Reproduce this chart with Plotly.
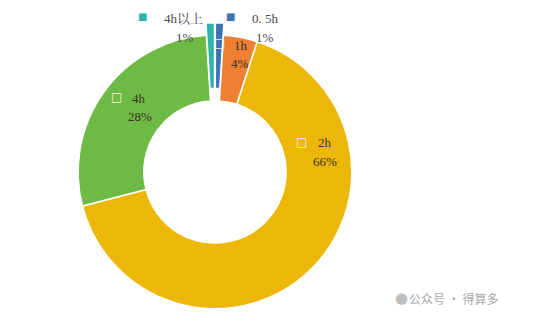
import plotly.graph_objects as go

labels = ["0.5h", "1h", "2h", "4h", "4h以上"]
values = [1, 4, 66, 28, 1]
colors = ["#3F72B5", "#EE7F35", "#EDB70A", "#6DBB45", "#2DB3AE"]
pulls = [0.09, 0, 0, 0, 0.09]
pct_text = ["1%", "4%", "66%", "28%", "1%"]

W, H = 534, 321


def px(x, y):
    return x / W, 1 - y / H


fig = go.Figure()
fig.add_trace(go.Pie(
    labels=labels, values=values, sort=False, direction="clockwise", rotation=0,
    hole=0.52, pull=pulls,
    marker=dict(colors=colors, line=dict(color="white", width=1.5)),
    textinfo="none", showlegend=False, hoverinfo="label+percent",
    domain=dict(x=[0.123, 0.682], y=[0.0, 0.929]),
))

serif = "Liberation Serif, Noto Serif CJK SC, Noto Sans CJK SC, serif"


def note(x, y, text, size=13, color="#3a3020", family=serif, xanchor="center"):
    xx, yy = px(x, y)
    fig.add_annotation(x=xx, y=yy, xref="paper", yref="paper", showarrow=False,
                       xanchor=xanchor, yanchor="middle", text=text,
                       font=dict(family=family, size=size, color=color))


# data labels: (label pos, percent pos, key-square pos, key style)
label_layout = {
    "4h以上": ((183, 18), (185, 37), (142, 16), "filled"),
    "0.5h": ((265, 18), (265, 37), (230, 16), "filled"),
    "1h": ((241, 45), (240, 63), (219, 43), "hollow"),
    "2h": ((325, 143), (325, 162), (301, 142), "hollow"),
    "4h": ((139, 98), (140, 117), (116, 97), "hollow"),
}
for lab, pct, col in zip(labels, pct_text, colors):
    (lx, ly), (qx, qy), (sx, sy), style = label_layout[lab]
    shown = "0. 5h" if lab == "0.5h" else lab
    tc = "#4a4a4a" if style == "filled" else "#3a3020"
    note(lx, ly, shown, color=tc)
    note(qx, qy, pct, color=tc)
    if style == "filled":
        note(sx, sy, "■", size=10, color=col, family="DejaVu Sans")
    else:
        note(sx, sy, "□", size=12, color="#f6f0dc", family="DejaVu Sans")

# watermark
note(500, 298, "公众号 · 得算多", size=12, color="#a8a8a8",
     family="Noto Sans CJK SC", xanchor="right")
note(401, 298, "●", size=15, color="#bdbdbd", family="DejaVu Sans")

fig.update_layout(width=W, height=H, margin=dict(l=0, r=0, t=0, b=0),
                  paper_bgcolor="white", plot_bgcolor="white")
fig.write_html("out.html")
